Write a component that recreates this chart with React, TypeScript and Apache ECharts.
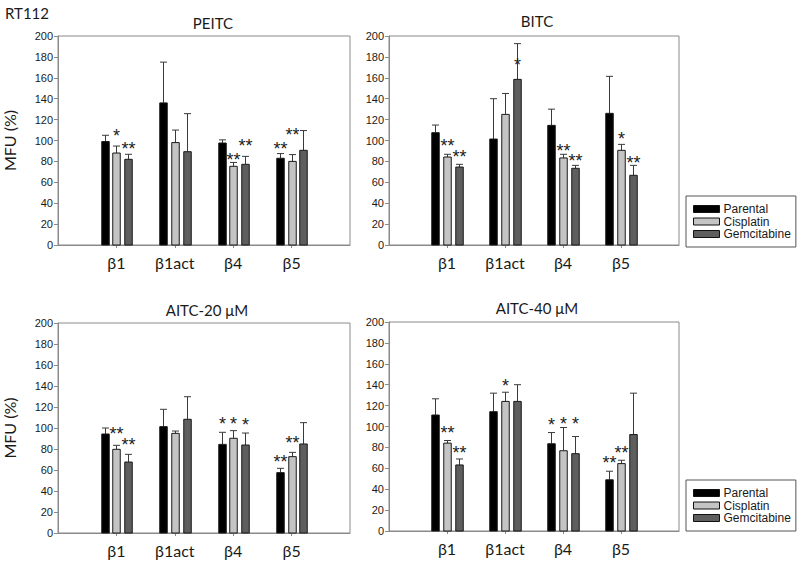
import React, { useEffect, useRef } from "react";
import * as echarts from "echarts";

const categories = ["β1", "β1act", "β4", "β5"];
const groupNames = ["Parental", "Cisplatin", "Gemcitabine"];
const panelTitles = ["PEITC", "BITC", "AITC-20 μM", "AITC-40 μM"];
const yTicks = [0, 200, 20];

// PEITC
const peitcParental = [99, 136, 97.6, 83];
const peitcCisplatin = [88, 98, 75.3, 80];
const peitcGemcitabine = [82, 89.3, 77.2, 90.6];
const peitcParentalSD = [6, 39, 3, 4.5];
const peitcCisplatinSD = [6.7, 12, 3.7, 6.5];
const peitcGemcitabineSD = [4.8, 36.4, 7.6, 18.9];
const peitcParentalSig = ["", "", "", "**"];
const peitcCisplatinSig = ["*", "", "**", "**"];
const peitcGemcitabineSig = ["**", "", "**", ""];
// height (MFU %) at which each significance mark is printed
const peitcParentalSigAt = [0, 0, 0, 95];
const peitcCisplatinSigAt = [107.5, 0, 84.5, 108.5];
const peitcGemcitabineSigAt = [94.7, 0, 97.9, 0];

// BITC
const bitcParental = [107.5, 101.4, 114.5, 126];
const bitcCisplatin = [84.2, 125, 83.3, 90.6];
const bitcGemcitabine = [74.6, 158.5, 73.4, 66.7];
const bitcParentalSD = [7.3, 38.6, 15.5, 35.4];
const bitcCisplatinSD = [2.6, 20, 3.5, 5.7];
const bitcGemcitabineSD = [2.6, 34.2, 2.8, 9.5];
const bitcParentalSig = ["", "", "", ""];
const bitcCisplatinSig = ["**", "", "**", "*"];
const bitcGemcitabineSig = ["**", "*", "**", "**"];
const bitcParentalSigAt = [0, 0, 0, 0];
const bitcCisplatinSigAt = [97.3, 0, 93.1, 104.3];
const bitcGemcitabineSigAt = [87, 175.4, 83.6, 81.3];

// AITC-20 µM
const aitc20Parental = [94.3, 101.3, 84.4, 57.5];
const aitc20Cisplatin = [79.7, 94.9, 90.2, 72.7];
const aitc20Gemcitabine = [67.6, 108.3, 83.8, 84.8];
const aitc20ParentalSD = [5.7, 16.5, 11.5, 4.1];
const aitc20CisplatinSD = [3.8, 2.2, 7.3, 4.1];
const aitc20GemcitabineSD = [7.3, 21.5, 11.4, 20.3];
const aitc20ParentalSig = ["", "", "*", "**"];
const aitc20CisplatinSig = ["**", "", "*", "**"];
const aitc20GemcitabineSig = ["**", "", "*", ""];
const aitc20ParentalSigAt = [0, 0, 106.7, 70.2];
const aitc20CisplatinSigAt = [97.1, 0, 106.7, 88.3];
const aitc20GemcitabineSigAt = [86.7, 0, 105.4, 0];

// AITC-40 µM
const aitc40Parental = [111, 114.2, 83.5, 49];
const aitc40Cisplatin = [84.1, 124, 76.8, 64.5];
const aitc40Gemcitabine = [63.2, 124, 74, 92.3];
const aitc40ParentalSD = [15.5, 17.7, 10.7, 8.2];
const aitc40CisplatinSD = [2.5, 8.8, 22.2, 3.2];
const aitc40GemcitabineSD = [5.7, 16, 16.4, 39.6];
const aitc40ParentalSig = ["", "", "*", "**"];
const aitc40CisplatinSig = ["**", "*", "*", "**"];
const aitc40GemcitabineSig = ["**", "", "*", ""];
const aitc40ParentalSigAt = [0, 0, 104, 67.7];
const aitc40CisplatinSigAt = [96.8, 142, 105.6, 77.2];
const aitc40GemcitabineSigAt = [77.8, 0, 105.6, 0];

const panelValues = [
  [peitcParental, peitcCisplatin, peitcGemcitabine],
  [bitcParental, bitcCisplatin, bitcGemcitabine],
  [aitc20Parental, aitc20Cisplatin, aitc20Gemcitabine],
  [aitc40Parental, aitc40Cisplatin, aitc40Gemcitabine],
];
const panelSD = [
  [peitcParentalSD, peitcCisplatinSD, peitcGemcitabineSD],
  [bitcParentalSD, bitcCisplatinSD, bitcGemcitabineSD],
  [aitc20ParentalSD, aitc20CisplatinSD, aitc20GemcitabineSD],
  [aitc40ParentalSD, aitc40CisplatinSD, aitc40GemcitabineSD],
];
const panelSig = [
  [peitcParentalSig, peitcCisplatinSig, peitcGemcitabineSig],
  [bitcParentalSig, bitcCisplatinSig, bitcGemcitabineSig],
  [aitc20ParentalSig, aitc20CisplatinSig, aitc20GemcitabineSig],
  [aitc40ParentalSig, aitc40CisplatinSig, aitc40GemcitabineSig],
];
const panelSigAt = [
  [peitcParentalSigAt, peitcCisplatinSigAt, peitcGemcitabineSigAt],
  [bitcParentalSigAt, bitcCisplatinSigAt, bitcGemcitabineSigAt],
  [aitc20ParentalSigAt, aitc20CisplatinSigAt, aitc20GemcitabineSigAt],
  [aitc40ParentalSigAt, aitc40CisplatinSigAt, aitc40GemcitabineSigAt],
];

const fills = ["#000000", "#c4c4c4", "#5e5e5e"];
const offsets = [-11.7, 0, 11.7];
const BAR_W = 7.5;
const grids = [
  { left: 58, top: 36, width: 292, height: 209 },
  { left: 389, top: 36, width: 290, height: 209 },
  { left: 58, top: 323, width: 292, height: 210 },
  { left: 389, top: 322, width: 290, height: 209 },
];
const titlePos = [
  [213, 23],
  [537, 21],
  [207, 310],
  [537, 308],
];

const axisCats = ["", ...categories, ""];
const AXIS_GREY = "#8a8a8a";
const TXT = "#1a1a1a";

export default function App() {
  const ref = useRef<HTMLDivElement>(null);
  useEffect(() => {
    if (!ref.current) return;
    const chart = echarts.init(ref.current, undefined, { renderer: "svg" });

    const series: any[] = [];
    for (let p = 0; p < 4; p++) {
      for (let g = 0; g < 3; g++) {
        const vals = panelValues[p][g];
        const sds = panelSD[p][g];
        const sig = panelSig[p][g];
        const sigAt = panelSigAt[p][g];
        series.push({
          type: "custom",
          name: groupNames[g],
          xAxisIndex: p,
          yAxisIndex: p,
          itemStyle: { color: fills[g] },
          encode: { x: 0, y: [1, 2] },
          data: categories.map((c, i) => [i + 1, vals[i], vals[i] + sds[i], sigAt[i]]),
          renderItem: (params: any, api: any) => {
            const xi = api.value(0);
            const base = api.coord([xi, 0]);
            const top = api.coord([xi, api.value(1)]);
            const et = api.coord([xi, api.value(2)]);
            const st = api.coord([xi, api.value(3)]);
            const cx = Math.round(base[0] + offsets[g]) + 0.5;
            const s = sig[params.dataIndex];
            const children: any[] = [
              {
                type: "line",
                shape: { x1: cx, y1: top[1], x2: cx, y2: et[1] },
                style: { stroke: "#3a3a3a", lineWidth: 1 },
              },
              {
                type: "line",
                shape: { x1: cx - 3.5, y1: et[1], x2: cx + 3.5, y2: et[1] },
                style: { stroke: "#3a3a3a", lineWidth: 1 },
              },
              {
                type: "rect",
                shape: {
                  x: cx - BAR_W / 2,
                  y: top[1],
                  width: BAR_W,
                  height: base[1] - top[1],
                },
                style: { fill: fills[g], stroke: "#1a1a1a", lineWidth: 1 },
              },
            ];
            if (s) {
              children.push({
                type: "text",
                x: cx,
                y: st[1] + 3,
                style: {
                  text: s,
                  align: "center",
                  verticalAlign: "middle",
                  font: "18px 'Liberation Sans', Arial, sans-serif",
                  fill: "#222",
                },
              });
            }
            return { type: "group", children };
          },
        });
      }
    }

    const legendData = groupNames.map((n, g) => ({
      name: n,
      icon: "rect",
      itemStyle: { color: fills[g], borderColor: "#111", borderWidth: 1 },
    }));
    const legendBase = {
      orient: "vertical",
      left: 686,
      selectedMode: false,
      itemWidth: 26,
      itemHeight: 7,
      itemGap: 0.5,
      padding: [7, 5, 7, 7],
      borderColor: "#555",
      borderWidth: 1,
      backgroundColor: "#fff",
      textStyle: {
        fontFamily: "'Liberation Sans', Arial, sans-serif",
        fontSize: 12,
        lineHeight: 12,
        color: TXT,
        padding: [0, 0, 0, -1],
      },
      data: legendData,
    };

    const option: any = {
      animation: false,
      backgroundColor: "#ffffff",
      grid: grids.map((gr) => ({
        ...gr,
        show: true,
        borderColor: AXIS_GREY,
        borderWidth: 1,
        backgroundColor: "transparent",
      })),
      xAxis: grids.map((gr, p) => ({
        type: "category",
        gridIndex: p,
        data: axisCats,
        boundaryGap: false,
        axisLine: { lineStyle: { color: AXIS_GREY } },
        axisTick: {
          show: true,
          length: 3,
          lineStyle: { color: AXIS_GREY },
          interval: (i: number) => i >= 1 && i <= 4,
        },
        axisLabel: {
          interval: 0,
          margin: 9,
          fontFamily: "Lato, 'Open Sans', sans-serif",
          fontSize: 16,
          color: TXT,
        },
        splitLine: { show: false },
      })),
      yAxis: grids.map((gr, p) => ({
        type: "value",
        gridIndex: p,
        min: yTicks[0],
        max: yTicks[1],
        interval: yTicks[2],
        name: p % 2 === 0 ? "MFU (%)" : "",
        nameLocation: "middle",
        nameRotate: 90,
        nameGap: 41,
        nameTextStyle: {
          fontFamily: "Lato, 'Open Sans', sans-serif",
          fontSize: 16,
          color: TXT,
        },
        axisLine: { show: true, lineStyle: { color: AXIS_GREY } },
        axisTick: { show: true, length: 4, lineStyle: { color: AXIS_GREY } },
        axisLabel: {
          margin: 5,
          fontFamily: "'Liberation Sans', Arial, sans-serif",
          fontSize: 11,
          color: TXT,
        },
        splitLine: { show: false },
      })),
      legend: [
        { ...legendBase, top: 196 },
        { ...legendBase, top: 480 },
      ],
      graphic: [
        {
          type: "text",
          x: 5,
          y: 13,
          style: {
            text: "RT112",
            align: "left",
            verticalAlign: "middle",
            font: "15px Lato, 'Open Sans', sans-serif",
            fill: TXT,
          },
        },
        ...panelTitles.map((t, p) => ({
          type: "text",
          x: titlePos[p][0],
          y: titlePos[p][1],
          style: {
            text: t,
            align: "center",
            verticalAlign: "middle",
            font: "15px Lato, 'Open Sans', sans-serif",
            fill: TXT,
          },
        })),
      ],
      series,
    };

    chart.setOption(option);
    return () => chart.dispose();
  }, []);

  return (
    <div
      ref={ref}
      style={{ position: "fixed", left: 0, top: 0, width: 798, height: 562, background: "#fff" }}
    />
  );
}
